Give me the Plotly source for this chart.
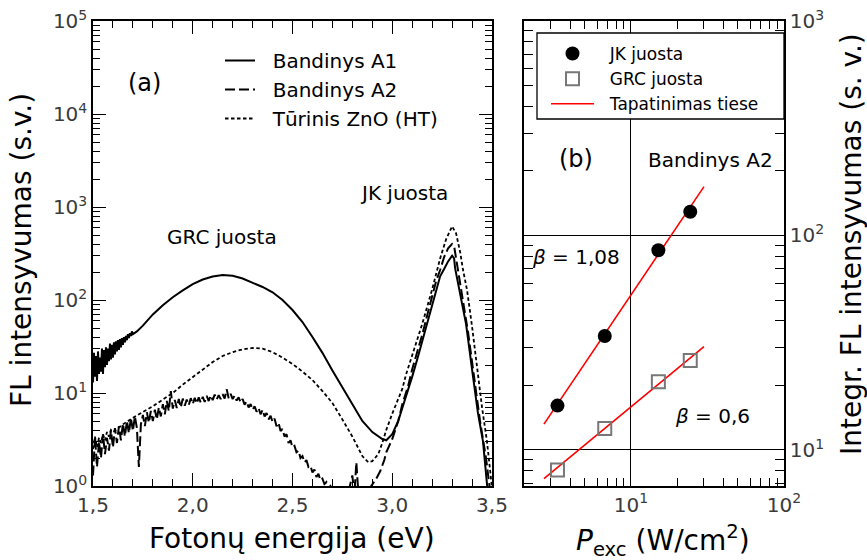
import plotly.graph_objects as go
import math

# ---------------- data: panel (a) ----------------
a1_e = [1.500, 1.505, 1.510, 1.515, 1.520, 1.525, 1.530, 1.535, 1.540, 1.545, 1.550, 1.555, 1.560, 1.565,
        1.570, 1.575, 1.580, 1.585, 1.590, 1.595, 1.600, 1.605, 1.610, 1.615, 1.620, 1.625, 1.630, 1.635,
        1.640, 1.645, 1.650, 1.655, 1.660, 1.665, 1.670, 1.675, 1.680, 1.685, 1.690, 1.695, 1.700,
        1.72, 1.75, 1.78, 1.80, 1.85, 1.90, 1.95, 2.00, 2.05, 2.10, 2.15, 2.20, 2.25, 2.30, 2.35, 2.40,
        2.45, 2.50, 2.55, 2.60, 2.65, 2.70, 2.75, 2.80, 2.85, 2.90, 2.95, 2.97, 3.00, 3.03, 3.05, 3.08,
        3.10, 3.13, 3.15, 3.18, 3.20, 3.22, 3.24, 3.26, 3.28, 3.30, 3.31, 3.315, 3.34, 3.37, 3.40, 3.43,
        3.455, 3.475, 3.48]
a1_i = [13, 27, 15, 25, 13.5, 28, 16, 24, 17, 30, 16, 29, 19, 31,
        20, 30, 22, 34, 23, 33, 24, 35, 26, 36, 28, 37, 29, 38,
        31, 39, 33, 40, 35, 41, 37, 43, 39, 44, 41, 46, 43,
        46, 53, 63, 70, 88, 107, 127, 148, 166, 179, 186, 182, 170, 153, 138, 121,
        100, 78, 58, 40, 27, 17.5, 11.5, 7.8, 5.0, 3.8, 3.2, 3.1, 3.6, 5.0, 6.8, 10.5,
        15, 25, 36, 60, 85, 125, 180, 215, 260, 300, 280, 220, 120, 55, 18, 6,
        3, 1.0, 0.8]

a2_e = [1.50, 1.51, 1.52, 1.53, 1.54, 1.55, 1.56, 1.57, 1.58, 1.59, 1.60, 1.61, 1.62, 1.63, 1.64,
        1.65, 1.66, 1.67, 1.68, 1.69, 1.70, 1.71, 1.72, 1.73, 1.74, 1.75, 1.76, 1.77, 1.78, 1.79,
        1.80, 1.81, 1.82, 1.83, 1.84, 1.85, 1.86, 1.87, 1.88, 1.89, 1.90, 1.91, 1.92, 1.93, 1.94,
        1.95, 1.96, 1.97, 1.98, 1.99, 2.00, 2.01, 2.02, 2.03, 2.04, 2.05, 2.06, 2.07, 2.08, 2.09,
        2.10, 2.11, 2.12, 2.13, 2.14, 2.15, 2.16, 2.17, 2.18, 2.19, 2.20, 2.21, 2.22, 2.23, 2.24,
        2.25, 2.26, 2.27, 2.28, 2.29, 2.30, 2.31, 2.32, 2.33, 2.34, 2.35, 2.36, 2.37, 2.38, 2.39,
        2.40, 2.41, 2.42, 2.43, 2.44, 2.45, 2.46, 2.47, 2.48, 2.49, 2.50, 2.51, 2.52, 2.53, 2.54,
        2.55, 2.56, 2.57, 2.58, 2.59, 2.60, 2.61, 2.62, 2.63, 2.64, 2.65, 2.66, 2.67, 2.68, 2.69,
        2.70, 2.75, 2.78, 2.80, 2.81, 2.82, 2.83, 2.85, 2.88, 2.90, 2.92, 2.94, 2.96, 2.97, 2.98,
        3.00, 3.03, 3.05, 3.08, 3.10, 3.13, 3.15, 3.18, 3.20, 3.22, 3.24, 3.26, 3.28, 3.30, 3.31,
        3.32, 3.35, 3.38, 3.41, 3.44, 3.47, 3.49]
a2_i = [1.3, 3.4, 1.6, 3.0, 2.0, 3.6, 2.2, 3.3, 2.4, 4.0, 2.6, 4.2, 2.9, 4.4, 3.1,
        4.7, 3.4, 5.0, 3.7, 5.4, 3.9, 5.6, 4.2, 1.6, 4.6, 5.8, 4.4, 6.2, 4.8, 6.4,
        5.0, 6.6, 5.2, 7.0, 5.6, 7.6, 5.9, 8.2, 6.4, 10.5, 6.8, 8.4, 6.9, 8.6, 7.0,
        8.7, 7.3, 8.5, 7.4, 8.8, 7.6, 8.9, 7.7, 9.0, 7.9, 9.1, 8.0, 9.3, 8.2, 9.4,
        8.4, 9.6, 8.5, 9.5, 8.6, 9.7, 8.7, 11.0, 8.8, 9.8, 8.6, 9.4, 8.3, 9.0, 7.9,
        8.6, 7.5, 8.1, 7.0, 7.6, 6.6, 7.2, 6.3, 6.9, 5.9, 6.6, 5.6, 6.1, 5.2, 5.7,
        4.9, 5.3, 4.4, 4.8, 3.9, 4.1, 3.4, 3.6, 2.9, 3.1, 2.6, 2.7, 2.3, 2.4, 2.0,
        2.1, 1.8, 1.9, 1.6, 1.65, 1.4, 1.5, 1.25, 1.35, 1.15, 1.2, 1.05, 1.1, 0.95, 1.0,
        0.9, 0.8, 0.85, 1.3, 0.8, 1.8, 0.85, 0.8, 0.9, 1.05, 1.2, 1.45, 1.9, 2.3, 2.6,
        3.2, 5.0, 7.5, 12, 18, 30, 42, 75, 110, 160, 210, 290, 360, 400, 380,
        280, 110, 45, 15, 5, 2, 0.9]

ht_e = [1.50, 1.51, 1.52, 1.53, 1.54, 1.55, 1.56, 1.57, 1.58, 1.59, 1.60, 1.62, 1.65, 1.70, 1.75,
        1.80, 1.85, 1.90, 1.95, 2.00, 2.05, 2.10, 2.15, 2.20, 2.25, 2.30, 2.35, 2.40, 2.45, 2.50,
        2.55, 2.60, 2.65, 2.70, 2.75, 2.80, 2.85, 2.88, 2.90, 2.93, 2.95, 2.97, 3.00, 3.05, 3.07,
        3.10, 3.15, 3.20, 3.24, 3.27, 3.30, 3.32, 3.34, 3.355, 3.375, 3.40, 3.425, 3.45, 3.475,
        3.49, 3.50]
ht_i = [2.5, 3.4, 2.6, 3.3, 2.9, 3.6, 3.1, 3.8, 3.4, 4.0, 3.8, 4.1, 4.6, 5.4, 6.2,
        7.2, 8.5, 10, 12.3, 14.8, 18, 21.5, 25, 27.5, 29.5, 30.5, 30, 27.5, 24, 20.5,
        17, 13.8, 10.5, 7.8, 5.2, 3.4, 2.1, 1.8, 1.85, 2.2, 2.9, 4.0, 6.0, 11, 16,
        25, 55, 130, 280, 450, 620, 520, 330, 210, 128, 52, 19, 7, 3.0,
        1.4, 0.95]

# ---------------- data: panel (b) ----------------
p_exc = [3.31, 6.74, 15.1, 24.4]
jk_int = [16.1, 34.0, 85.3, 129.0]
grc_int = [8.07, 12.6, 20.8, 26.1]
fit_p = [2.7, 30.0]
jk_fit = [13.2, 169.0]
grc_fit = [7.35, 30.3]

# ticks
a_xtick_vals = [1.5, 2.0, 2.5, 3.0, 3.5]
a_xtick_text = ["1,5", "2,0", "2,5", "3,0", "3,5"]
a_ytick_vals = [1, 10, 100, 1000, 10000, 100000]
a_ytick_text = ["10<sup>0</sup>", "10<sup>1</sup>", "10<sup>2</sup>", "10<sup>3</sup>",
                "10<sup>4</sup>", "10<sup>5</sup>"]
b_xtick_vals = [10, 100]
b_xtick_text = ["10<sup>1</sup>", "10<sup>2</sup>"]
b_ytick_vals = [10, 100, 1000]
b_ytick_text = ["10<sup>1</sup>", "10<sup>2</sup>", "10<sup>3</sup>"]

a_xminor = [round(1.5 + 0.1 * k, 1) for k in range(21)]
a_xminor = [v for v in a_xminor if v not in a_xtick_vals]
a_yminor = [m * 10 ** d for d in range(0, 5) for m in range(2, 10)]
b_xminor = [m * 10 ** d for d in range(0, 2) for m in range(2, 10)]
b_yminor = [m * 10 ** d for d in range(0, 3) for m in range(2, 10)]

FONT = "DejaVu Sans"
TICKC = "#3a3a3a"
GAP = "\u00a0\u00a0"  # extra space between legend sample and label

# plot area in pixels
L, R, T, B = 93, 784, 21, 486
W, H = 867, 560


def pxx(p):
    return (p - L) / (R - L)


def pxy(p):
    return (B - p) / (B - T)


fig = go.Figure()

fig.add_trace(go.Scatter(x=a1_e, y=a1_i, mode="lines", name=GAP + "Bandinys A1",
                         line=dict(color="black", width=2), xaxis="x", yaxis="y", legend="legend"))
fig.add_trace(go.Scatter(x=a2_e, y=a2_i, mode="lines", name=GAP + "Bandinys A2",
                         line=dict(color="black", width=2, dash="10px,4px"), xaxis="x", yaxis="y",
                         legend="legend"))
fig.add_trace(go.Scatter(x=ht_e, y=ht_i, mode="lines", name=GAP + "Tūrinis ZnO (HT)",
                         line=dict(color="black", width=1.8, dash="3.5px,2.5px"), xaxis="x", yaxis="y",
                         legend="legend"))

fig.add_trace(go.Scatter(x=fit_p, y=jk_fit, mode="lines", name=GAP + "Tapatinimas tiese",
                         line=dict(color="red", width=1.6), xaxis="x2", yaxis="y2",
                         legend="legend2", legendrank=3))
fig.add_trace(go.Scatter(x=fit_p, y=grc_fit, mode="lines", name="Tapatinimas tiese",
                         line=dict(color="red", width=1.6), xaxis="x2", yaxis="y2",
                         legend="legend2", showlegend=False))
fig.add_trace(go.Scatter(x=p_exc, y=jk_int, mode="markers", name=GAP + "JK juosta",
                         marker=dict(color="black", size=14, symbol="circle"),
                         xaxis="x2", yaxis="y2", legend="legend2", legendrank=1))
fig.add_trace(go.Scatter(x=p_exc, y=grc_int, mode="markers", name=GAP + "GRC juosta",
                         marker=dict(color="#777777", size=13, symbol="square-open",
                                     line=dict(width=2, color="#777777")),
                         xaxis="x2", yaxis="y2", legend="legend2", legendrank=2))

axis_common = dict(showline=True, linecolor="black", linewidth=1.5, mirror="allticks",
                   ticks="inside", tickcolor="black", tickwidth=1.3, zeroline=False,
                   tickfont=dict(family=FONT, size=20, color=TICKC))

fig.update_layout(
    width=W, height=H,
    margin=dict(l=L, r=W - R, t=T, b=H - B, autoexpand=False),
    paper_bgcolor="white", plot_bgcolor="white",
    font=dict(family=FONT, color="black"),
    xaxis=dict(domain=[0, pxx(492)], range=[1.5, 3.5], tickmode="array",
               tickvals=a_xtick_vals, ticktext=a_xtick_text, ticklen=13, showgrid=False,
               minor=dict(tickmode="array", tickvals=a_xminor, ticklen=7, ticks="inside",
                          tickcolor="black", tickwidth=1.2, showgrid=False),
               anchor="y", **axis_common),
    yaxis=dict(type="log", range=[0, 5], tickmode="array", tickvals=a_ytick_vals,
               ticktext=a_ytick_text, ticklen=13, showgrid=False,
               minor=dict(tickmode="array", tickvals=a_yminor, ticklen=7, ticks="inside",
                          tickcolor="black", tickwidth=1.2, showgrid=False),
               anchor="x", **axis_common),
    xaxis2=dict(domain=[pxx(524), 1], type="log", range=[math.log10(2), 2], tickmode="array",
                tickvals=b_xtick_vals, ticktext=b_xtick_text, ticklen=8,
                showgrid=True, gridcolor="black", gridwidth=1.2,
                minor=dict(tickmode="array", tickvals=b_xminor, ticklen=8, ticks="inside",
                           tickcolor="black", tickwidth=1.2, showgrid=False),
                anchor="y2", **axis_common),
    yaxis2=dict(type="log", range=[0.832, 3], side="right", tickmode="array",
                tickvals=b_ytick_vals, ticktext=b_ytick_text, ticklen=9,
                showgrid=True, gridcolor="black", gridwidth=1.2,
                minor=dict(tickmode="array", tickvals=b_yminor, ticklen=9, ticks="inside",
                           tickcolor="black", tickwidth=1.2, showgrid=False),
                anchor="x2", **axis_common),
    legend=dict(x=pxx(220), y=pxy(41), xanchor="left", yanchor="top",
                bgcolor="rgba(0,0,0,0)", borderwidth=0, font=dict(family=FONT, size=20, color="black"),
                itemwidth=30, tracegroupgap=0),
    legend2=dict(x=pxx(546), y=pxy(36), xanchor="left", yanchor="top",
                 bgcolor="rgba(0,0,0,0)", borderwidth=0, font=dict(family=FONT, size=17, color="black"),
                 itemwidth=43, tracegroupgap=0, traceorder="normal"),
    showlegend=True,
)

# legend frame of panel (b)
fig.add_shape(type="rect", xref="paper", yref="paper", x0=pxx(537), x1=pxx(784),
              y0=pxy(119), y1=pxy(33), line=dict(color="black", width=1.3),
              fillcolor="white", layer="above")

ann = []
# axis titles
ann.append(dict(text="FL intensyvumas (s.v.)", x=pxx(22), y=pxy(250), textangle=-90,
                font=dict(size=28)))
ann.append(dict(text="Fotonų energija (eV)", x=pxx(292), y=pxy(538), font=dict(size=28)))
ann.append(dict(text="Integr. FL intensyvumas (s. v.)", x=pxx(851), y=pxy(244), textangle=-90,
                font=dict(size=28)))
ann.append(dict(text="<i>P</i><sub>exc</sub> (W/cm<sup>2</sup>)", x=pxx(663), y=pxy(540),
                font=dict(size=28)))
for a in ann:
    a.update(xref="paper", yref="paper", showarrow=False, xanchor="center", yanchor="middle")
    a["font"].update(family=FONT, color="black")
    fig.add_annotation(**a)

# in-panel labels (data coordinates; log axes use log10 values)
labels = [
    dict(text="(a)", x=1.76, y=4.33, xref="x", yref="y", size=24),
    dict(text="GRC juosta", x=2.147, y=2.68, xref="x", yref="y", size=20),
    dict(text="JK juosta", x=3.06, y=3.15, xref="x", yref="y", size=20),
    dict(text="(b)", x=0.638, y=2.356, xref="x2", yref="y2", size=24),
    dict(text="Bandinys A2", x=1.52, y=2.352, xref="x2", yref="y2", size=20),
    dict(text="<i>β</i> = 1,08", x=0.64, y=1.898, xref="x2", yref="y2", size=20),
    dict(text="<i>β</i> = 0,6", x=1.53, y=1.157, xref="x2", yref="y2", size=20),
]
for lb in labels:
    fig.add_annotation(text=lb["text"], x=lb["x"], y=lb["y"], xref=lb["xref"], yref=lb["yref"],
                       showarrow=False, xanchor="center", yanchor="middle",
                       font=dict(family=FONT, size=lb["size"], color="black"))

fig.write_html("out.html")
